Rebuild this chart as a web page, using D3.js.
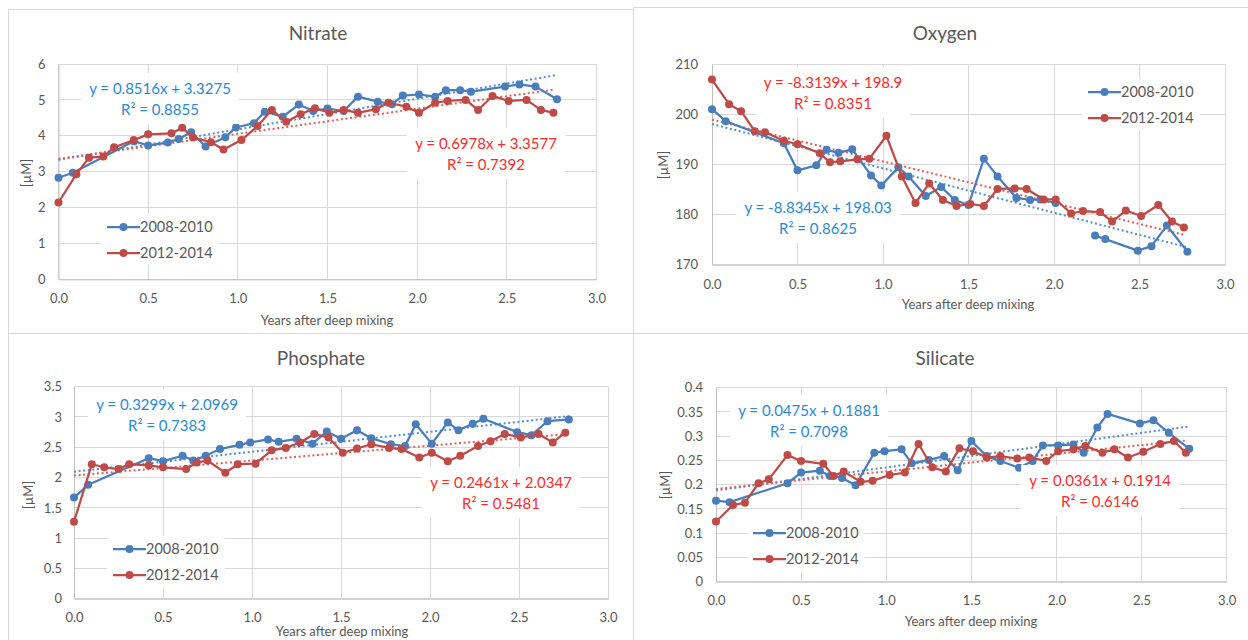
<!DOCTYPE html>
<html>
<head>
<meta charset="utf-8">
<script src="https://cdn.jsdelivr.net/npm/d3@7"></script>
<style>
  html, body { margin: 0; padding: 0; background: #fff; }
  svg { display: block; font-family: Lato, "Open Sans", sans-serif; }
</style>
</head>
<body>
<svg id="chart" width="1248" height="640"></svg>
<script>
// Sampling times (years after deep mixing)
const yearsA = [0, 0.08, 0.42, 0.50, 0.61, 0.67, 0.74, 0.82, 0.93, 0.99, 1.09, 1.15, 1.25, 1.34, 1.42,
                1.50, 1.59, 1.67, 1.78, 1.86, 1.92, 2.01, 2.10, 2.16, 2.24, 2.30, 2.49, 2.57, 2.66, 2.78];
const yearsB = [0, 0.10, 0.17, 0.25, 0.31, 0.42, 0.50, 0.63, 0.69, 0.75, 0.85, 0.92, 1.02, 1.11, 1.19,
                1.27, 1.35, 1.43, 1.51, 1.59, 1.67, 1.77, 1.84, 1.94, 2.01, 2.10, 2.17, 2.27, 2.34, 2.42,
                2.51, 2.61, 2.69, 2.76];

const seriesNames = ["2008-2010", "2012-2014"];
const titles = ["Nitrate", "Oxygen", "Phosphate", "Silicate"];

// 2008-2010 concentrations [µM]
const nitrateA = [2.83, 2.97, 3.85, 3.73, 3.81, 3.91, 4.10, 3.70, 3.96, 4.23, 4.35, 4.67, 4.53, 4.87, 4.69,
                  4.76, 4.69, 5.09, 4.95, 4.88, 5.12, 5.15, 5.09, 5.27, 5.27, 5.23, 5.37, 5.43, 5.37, 5.02];
const oxygenA = [201.0, 198.6, 194.2, 188.8, 189.8, 192.9, 192.3, 193.0, 187.8, 185.8, 189.4, 187.6, 183.7, 185.5, 182.9,
                 181.9, 191.1, 187.6, 183.3, 182.9, 183.0, 182.3, null, null, 175.8, 175.1, 172.8, 173.7, 177.8, 172.6];
const phosphateA = [1.67, 1.88, 2.32, 2.27, 2.36, 2.28, 2.36, 2.47, 2.54, 2.58, 2.63, 2.59, 2.64, 2.56, 2.76,
                    2.64, 2.78, 2.65, 2.55, 2.52, 2.88, 2.56, 2.91, 2.78, 2.89, 2.97, 2.75, 2.70, 2.93, 2.96];
const silicateA = [0.167, 0.164, 0.203, 0.225, 0.229, 0.218, 0.214, 0.199, 0.266, 0.269, 0.273, 0.244, 0.251, 0.259, 0.230,
                   0.290, 0.259, 0.249, 0.235, 0.249, 0.281, 0.281, 0.283, 0.266, 0.318, 0.346, 0.326, 0.333, 0.307, 0.274];

// 2012-2014 concentrations [µM]
const nitrateB = [2.14, 2.93, 3.39, 3.42, 3.68, 3.88, 4.04, 4.07, 4.22, 3.95, 3.82, 3.62, 3.88, 4.27, 4.72,
                  4.39, 4.60, 4.77, 4.64, 4.72, 4.64, 4.74, 4.92, 4.81, 4.64, 4.92, 4.97, 5.00, 4.72, 5.11,
                  4.97, 5.00, 4.72, 4.64];
const oxygenB = [206.9, 202.0, 200.6, 196.6, 196.4, 194.7, 194.0, 192.2, 190.4, 190.6, 191.0, 191.1, 195.7, 187.6, 182.3,
                 186.2, 182.9, 181.7, 182.1, 181.7, 185.1, 185.2, 185.1, 183.0, 183.0, 180.2, 180.7, 180.5, 178.6, 180.8,
                 179.7, 181.9, 178.6, 177.4];
const phosphateB = [1.27, 2.22, 2.17, 2.14, 2.22, 2.20, 2.17, 2.14, 2.25, 2.28, 2.08, 2.22, 2.23, 2.45, 2.49,
                    2.58, 2.72, 2.66, 2.41, 2.48, 2.55, 2.49, 2.47, 2.33, 2.41, 2.27, 2.36, 2.52, 2.60, 2.72,
                    2.66, 2.72, 2.58, 2.74];
const silicateB = [0.124, 0.158, 0.163, 0.203, 0.211, 0.261, 0.249, 0.243, 0.218, 0.227, 0.206, 0.208, 0.220, 0.225, 0.284,
                   0.236, 0.227, 0.275, 0.269, 0.256, 0.259, 0.254, 0.256, 0.249, 0.269, 0.273, 0.280, 0.266, 0.273, 0.256,
                   0.268, 0.284, 0.290, 0.266];

// Linear fits: Nitrate, Oxygen, Phosphate, Silicate
const slopeA = [0.8516, -8.8345, 0.3299, 0.0475];
const interceptA = [3.3275, 198.03, 2.0969, 0.1881];
const r2A = [0.8855, 0.8625, 0.7383, 0.7098];
const slopeB = [0.6978, -8.3139, 0.2461, 0.0361];
const interceptB = [3.3577, 198.9, 2.0347, 0.1914];
const r2B = [0.7392, 0.8351, 0.5481, 0.6146];

// Axis ticks
const xTicks = [0, 0.5, 1.0, 1.5, 2.0, 2.5, 3.0];
const yTicksNitrate = [0, 1, 2, 3, 4, 5, 6];
const yTicksOxygen = [170, 180, 190, 200, 210];
const yTicksPhosphate = [0, 0.5, 1, 1.5, 2, 2.5, 3, 3.5];
const yTicksSilicate = [0, 0.05, 0.1, 0.15, 0.2, 0.25, 0.3, 0.35, 0.4];

const xLabel = "Years after deep mixing";
const yLabel = "[µM]";

// ---- drawing ----
const colA = "#4a7ebb", colB = "#be4b48";
const trendColA = "#4f8fd6", trendColB = "#e0605c";
const eqColA = "#2a8ad4", eqColB = "#ff2a2a";
const textGrey = "#595959", gridGrey = "#d9d9d9";

const svg = d3.select("#chart");

const panels = [
  { title: titles[0], a: nitrateA, b: nitrateB, yTicks: yTicksNitrate, yFmt: d3.format("d"),
    box: [8, 9, 625, 324], px: [58.5, 596.5], py: [279.3, 64], titleXY: [318, 40],
    xTickY: 303, xLabelXY: [327, 325], yLabelXY: [26, 173], yTickGap: 13,
    eqA: [160, 89], eqB: [486, 144], legend: [107, 227] },
  { title: titles[1], a: oxygenA, b: oxygenB, yTicks: yTicksOxygen, yFmt: d3.format("d"),
    box: [633, 7, 620, 326], px: [712, 1225], py: [264.7, 64], titleXY: [945, 40],
    xTickY: 289, xLabelXY: [968, 309], yLabelXY: [663, 165], yTickGap: 14,
    eqA: [818, 208], eqB: [833, 83], legend: [1088, 92] },
  { title: titles[2], a: phosphateA, b: phosphateB, yTicks: yTicksPhosphate, yFmt: d3.format("~g"),
    box: [8, 333, 625, 320], px: [74, 608], py: [598.7, 386.7], titleXY: [321, 365],
    xTickY: 622, xLabelXY: [342, 636], yLabelXY: [28, 495], yTickGap: 12,
    eqA: [167, 405], eqB: [501, 483], legend: [113, 549] },
  { title: titles[3], a: silicateA, b: silicateB, yTicks: yTicksSilicate, yFmt: d3.format("~g"),
    box: [633, 333, 620, 320], px: [716, 1226.7], py: [581.7, 387.7], titleXY: [945, 365],
    xTickY: 605, xLabelXY: [971, 626], yLabelXY: [665, 485], yTickGap: 13,
    eqA: [809, 411], eqB: [1100, 481], legend: [753, 533] }
];

panels.forEach((p, i) => {
  const g = svg.append("g");
  g.append("rect").attr("x", p.box[0] + 0.5).attr("y", p.box[1] + 0.5)
    .attr("width", p.box[2]).attr("height", p.box[3])
    .attr("fill", "#fff").attr("stroke", gridGrey).attr("stroke-width", 1);

  const yDom = d3.extent(p.yTicks);
  const x = d3.scaleLinear().domain([0, 3]).range(p.px);
  const y = d3.scaleLinear().domain(yDom).range(p.py);

  // gridlines
  const grid = g.append("g").attr("stroke", gridGrey).attr("stroke-width", 1).attr("shape-rendering", "crispEdges");
  grid.selectAll("line.h").data(p.yTicks).join("line")
    .attr("x1", p.px[0]).attr("x2", p.px[1]).attr("y1", d => y(d)).attr("y2", d => y(d));
  grid.selectAll("line.v").data(xTicks).join("line")
    .attr("y1", p.py[0]).attr("y2", p.py[1]).attr("x1", d => x(d)).attr("x2", d => x(d));

  // axes
  const xAxis = g.append("g").attr("transform", `translate(0,${p.py[0]})`)
    .call(d3.axisBottom(x).tickValues(xTicks).tickFormat(d3.format(".1f")).tickSize(0).tickPadding(0));
  xAxis.select(".domain").attr("stroke", "#bfbfbf");
  xAxis.selectAll("text").attr("y", p.xTickY - p.py[0]).attr("dy", null)
    .attr("fill", textGrey).attr("font-size", 13);

  const yAxis = g.append("g").attr("transform", `translate(${p.px[0]},0)`)
    .call(d3.axisLeft(y).tickValues(p.yTicks).tickFormat(p.yFmt).tickSize(0).tickPadding(p.yTickGap));
  yAxis.select(".domain").attr("stroke", "#bfbfbf");
  yAxis.selectAll("text").attr("fill", textGrey).attr("font-size", 13);
  [xAxis, yAxis].forEach(a => a.attr("font-family", null));

  // titles
  g.append("text").attr("x", p.titleXY[0]).attr("y", p.titleXY[1]).attr("text-anchor", "middle")
    .attr("fill", textGrey).attr("font-size", 19).text(p.title);
  g.append("text").attr("x", p.xLabelXY[0]).attr("y", p.xLabelXY[1]).attr("text-anchor", "middle")
    .attr("fill", textGrey).attr("font-size", 13).text(xLabel);
  g.append("text").attr("transform", `translate(${p.yLabelXY[0]},${p.yLabelXY[1]}) rotate(-90)`)
    .attr("text-anchor", "middle").attr("dy", "0.35em")
    .attr("fill", textGrey).attr("font-size", 13).text(yLabel);

  // trendlines
  const fits = [
    { years: yearsA, m: slopeA[i], c: interceptA[i], col: trendColA },
    { years: yearsB, m: slopeB[i], c: interceptB[i], col: trendColB }
  ];
  fits.forEach(f => {
    const xe = d3.extent(f.years);
    g.append("line")
      .attr("x1", x(xe[0])).attr("y1", y(f.m * xe[0] + f.c))
      .attr("x2", x(xe[1])).attr("y2", y(f.m * xe[1] + f.c))
      .attr("stroke", f.col).attr("stroke-width", 2).attr("stroke-dasharray", "2,2.6");
  });

  // data series
  const series = [
    { years: yearsA, vals: p.a, col: colA },
    { years: yearsB, vals: p.b, col: colB }
  ];
  series.forEach(s => {
    const pts = s.years.map((t, k) => ({ t, v: s.vals[k] }));
    const line = d3.line().defined(d => d.v != null).x(d => x(d.t)).y(d => y(d.v));
    g.append("path").datum(pts).attr("d", line)
      .attr("fill", "none").attr("stroke", s.col).attr("stroke-width", 2.25).attr("stroke-linejoin", "round");
    g.selectAll(null).data(pts.filter(d => d.v != null)).join("circle")
      .attr("cx", d => x(d.t)).attr("cy", d => y(d.v)).attr("r", 4)
      .attr("fill", s.col);
  });

  // equation labels
  const eqs = [
    { xy: p.eqA, m: slopeA[i], c: interceptA[i], r2: r2A[i], col: eqColA },
    { xy: p.eqB, m: slopeB[i], c: interceptB[i], r2: r2B[i], col: eqColB }
  ];
  eqs.forEach(e => {
    const lg = g.append("g");
    const bg = lg.append("rect").attr("fill", "#fff");
    const t = lg.append("text").attr("text-anchor", "middle").attr("fill", e.col).attr("font-size", 15);
    t.append("tspan").attr("x", e.xy[0]).attr("y", e.xy[1] + 5)
      .text(`y = ${e.m}x + ${e.c}`);
    t.append("tspan").attr("x", e.xy[0]).attr("y", e.xy[1] + 26)
      .text(`R² = ${e.r2}`);
    const bb = t.node().getBBox();
    bg.attr("x", bb.x - 8).attr("y", bb.y - 6).attr("width", bb.width + 16).attr("height", bb.height + 12);
  });

  // legend
  const lg = g.append("g");
  const lbg = lg.append("rect").attr("fill", "#fff");
  const cols = [colA, colB];
  seriesNames.forEach((name, k) => {
    const ly = p.legend[1] + k * 26;
    lg.append("line").attr("x1", p.legend[0]).attr("x2", p.legend[0] + 33)
      .attr("y1", ly).attr("y2", ly).attr("stroke", cols[k]).attr("stroke-width", 2.25);
    lg.append("circle").attr("cx", p.legend[0] + 16.5).attr("cy", ly).attr("r", 4).attr("fill", cols[k]);
    lg.append("text").attr("x", p.legend[0] + 33).attr("y", ly).attr("dy", "0.35em")
      .attr("fill", textGrey).attr("font-size", 14.5).text(name);
  });
  const lb = lg.node().getBBox();
  lbg.attr("x", lb.x - 6).attr("y", lb.y - 4).attr("width", lb.width + 12).attr("height", lb.height + 8);
});
</script>
</body>
</html>
